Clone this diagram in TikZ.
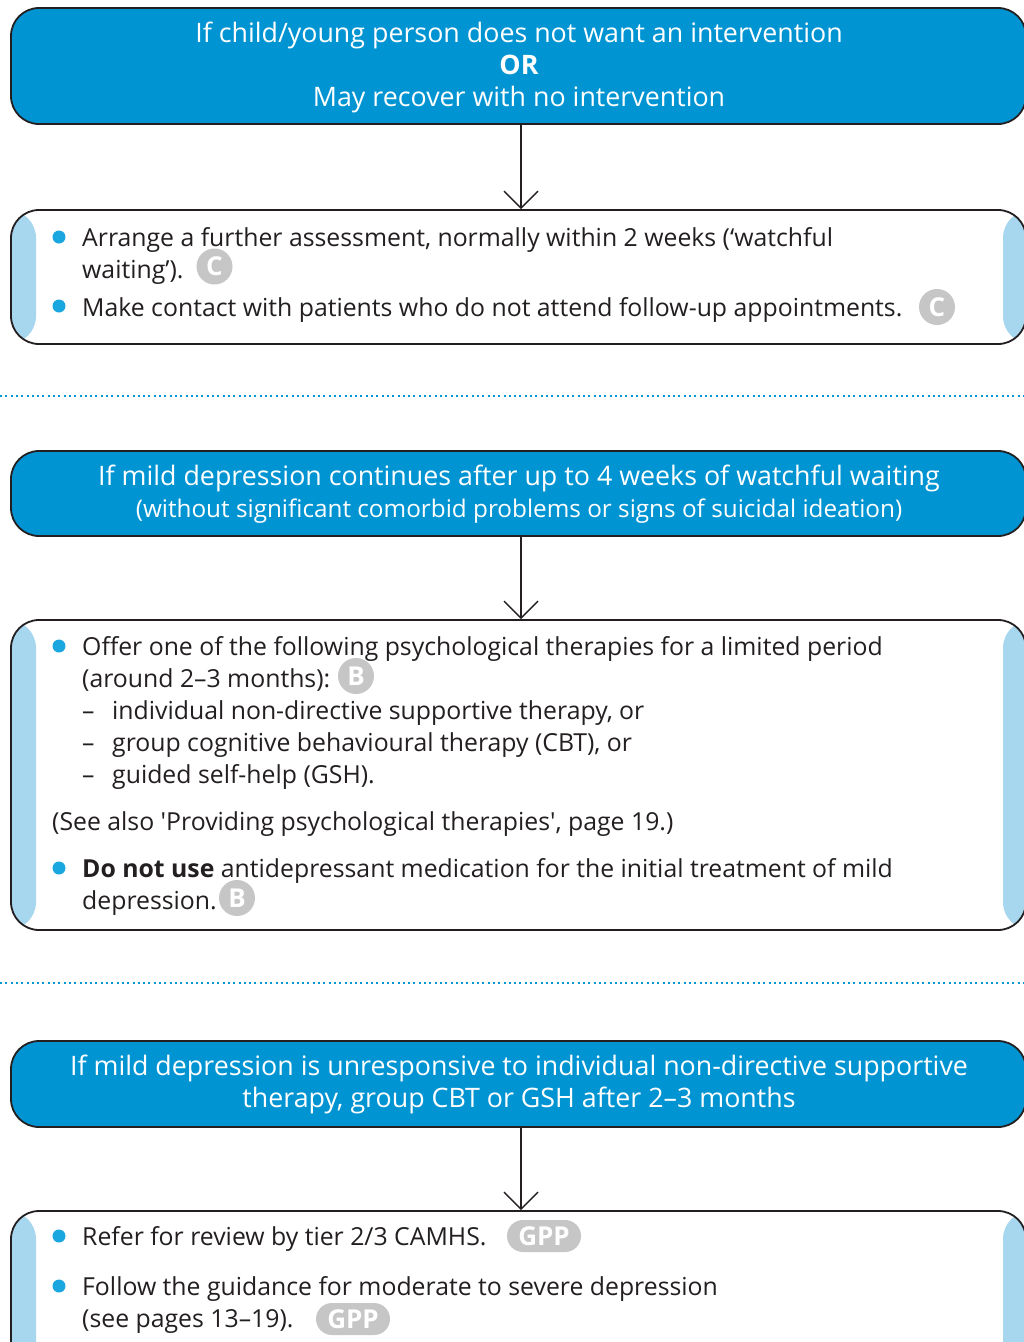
\documentclass[tikz,border=0pt]{standalone}
\usepackage{fontspec}
\setmainfont{Open Sans}
\usetikzlibrary{arrows.meta}
\definecolor{nblue}{HTML}{0094D2}
\definecolor{barblue}{HTML}{A7D6EF}
\definecolor{bulletblue}{HTML}{1AA7E0}
\definecolor{badgegray}{HTML}{C6C6C6}
\definecolor{textdark}{HTML}{231F20}
\definecolor{dotblue}{HTML}{0096D6}
\begin{document}
\begin{tikzpicture}[x=1pt,y=-1pt,
  boxbase/.style={draw=textdark, line width=1.8pt, rounded corners=28pt, minimum width=1015pt, inner sep=0pt, rectangle},
  bluebox/.style={boxbase, fill=nblue},
  whitebox/.style={boxbase, fill=white, path picture={
      \fill[barblue] (path picture bounding box.north west) rectangle ([xshift=25pt]path picture bounding box.south west);
      \fill[barblue] ([xshift=-23pt]path picture bounding box.north east) rectangle (path picture bounding box.south east);}},
  headtext/.style={anchor=base, inner sep=0pt, text=white, font=\fontsize{26.8}{32}\selectfont},
  subtext/.style={anchor=base, inner sep=0pt, text=white, font=\fontsize{24.3}{32}\selectfont},
  bodytext/.style={anchor=base west, inner sep=0pt, text=textdark, font=\fontsize{24.8}{32}\selectfont},
  bulletdot/.style={circle, fill=bulletblue, minimum size=13pt, inner sep=0pt},
  gradebadge/.style={circle, fill=badgegray, minimum size=36pt, inner sep=0pt, text=white, font=\fontsize{26}{26}\selectfont\bfseries},
  gppbadge/.style={rectangle, rounded corners=16pt, fill=badgegray, minimum width=74pt, minimum height=32pt, inner sep=0pt, text=white, font=\fontsize{26}{26}\selectfont\bfseries},
  flowarrow/.style={draw=textdark, line width=1.4pt, -{Straight Barb[length=17pt,width=34pt,line width=1.4pt]}},
  dotline/.style={draw=dotblue, line width=2pt, dash pattern=on 2pt off 3.3pt}
]
\useasboundingbox (0,0) rectangle (1024,1342);
\clip (0,0) rectangle (1024,1342);
\fill[white] (0,0) rectangle (1024,1342);

% ---------- boxes ----------
\node[bluebox, minimum height=116pt] (b1) at (518.5,66) {};
\node[whitebox, minimum height=134pt] (b2) at (518.5,277) {};
\node[bluebox, minimum height=85pt] (b3) at (518.5,493.5) {};
\node[whitebox, minimum height=310pt] (b4) at (518.5,775) {};
\node[bluebox, minimum height=86pt] (b5) at (518.5,1084) {};
\node[whitebox, minimum height=169pt] (b6) at (518.5,1295.5) {};

% ---------- arrows ----------
\draw[flowarrow] ([xshift=2.5pt]b1.south) -- ([xshift=2.5pt]b2.north);
\draw[flowarrow] ([xshift=2.5pt]b3.south) -- ([xshift=2.5pt]b4.north);
\draw[flowarrow] ([xshift=2.5pt]b5.south) -- ([xshift=2.5pt]b6.north);

% ---------- separators ----------
\draw[dotline] (0,395.5) -- (1024,395.5);
\draw[dotline] (0,983) -- (1024,983);

% ---------- box 1 text ----------
\node[headtext] (t11) at (519,42) {If child/young person does not want an intervention};
\node[headtext] (t12) at (519,74) {\textbf{OR}};
\node[headtext] (t13) at (519,106) {May recover with no intervention};

% ---------- box 2 text ----------
\node[bulletdot] (d21) at (59,237) {};
\node[bodytext] (t21) at (82,246) {Arrange a further assessment, normally within 2 weeks (‘watchful};
\node[bodytext] (t22) at (82,278) {waiting’).};
\node[gradebadge] (g21) at (214.5,266.5) {C};
\node[bulletdot] (d22) at (59,306) {};
\node[bodytext] (t23) at (82,316) {Make contact with patients who do not attend follow-up appointments.};
\node[gradebadge] (g22) at (937,307) {C};

% ---------- box 3 text ----------
\node[headtext] (t31) at (519,485) {If mild depression continues after up to 4 weeks of watchful waiting};
\node[subtext] (t32) at (519,517) {(without significant comorbid problems or signs of suicidal ideation)};

% ---------- box 4 text ----------
\node[bulletdot] (d41) at (59,646) {};
\node[bodytext] (t41) at (82,655) {Offer one of the following psychological therapies for a limited period};
\node[bodytext] (t42) at (82,687) {(around 2–3 months):};
\node[gradebadge] (g41) at (356,676) {B};
\node[bodytext] (m43) at (82,719) {–};
\node[bodytext] (t43) at (112,719) {individual non-directive supportive therapy, or};
\node[bodytext] (m44) at (82,751) {–};
\node[bodytext] (t44) at (112,751) {group cognitive behavioural therapy (CBT), or};
\node[bodytext] (m45) at (82,783) {–};
\node[bodytext] (t45) at (112,783) {guided self-help (GSH).};
\node[bodytext] (t46) at (52,830) {(See also \textquotesingle Providing psychological therapies\textquotesingle, page 19.)};
\node[bulletdot] (d42) at (59,868) {};
\node[bodytext] (t47) at (82,877) {\textbf{Do not use} antidepressant medication for the initial treatment of mild};
\node[bodytext] (t48) at (82,909) {depression.};
\node[gradebadge] (g42) at (237,898) {B};

% ---------- box 5 text ----------
\node[headtext] (t51) at (519,1075) {If mild depression is unresponsive to individual non-directive supportive};
\node[headtext] (t52) at (519,1107) {therapy, group CBT or GSH after 2–3 months};

% ---------- box 6 text ----------
\node[bulletdot] (d61) at (59,1236) {};
\node[bodytext] (t61) at (82,1245) {Refer for review by tier 2/3 CAMHS.};
\node[gppbadge] (g61) at (544,1236) {GPP};
\node[bulletdot] (d62) at (59,1286) {};
\node[bodytext] (t62) at (82,1295) {Follow the guidance for moderate to severe depression};
\node[bodytext] (t63) at (82,1327) {(see pages 13–19).};
\node[gppbadge] (g62) at (353,1319) {GPP};
\end{tikzpicture}
\end{document}
